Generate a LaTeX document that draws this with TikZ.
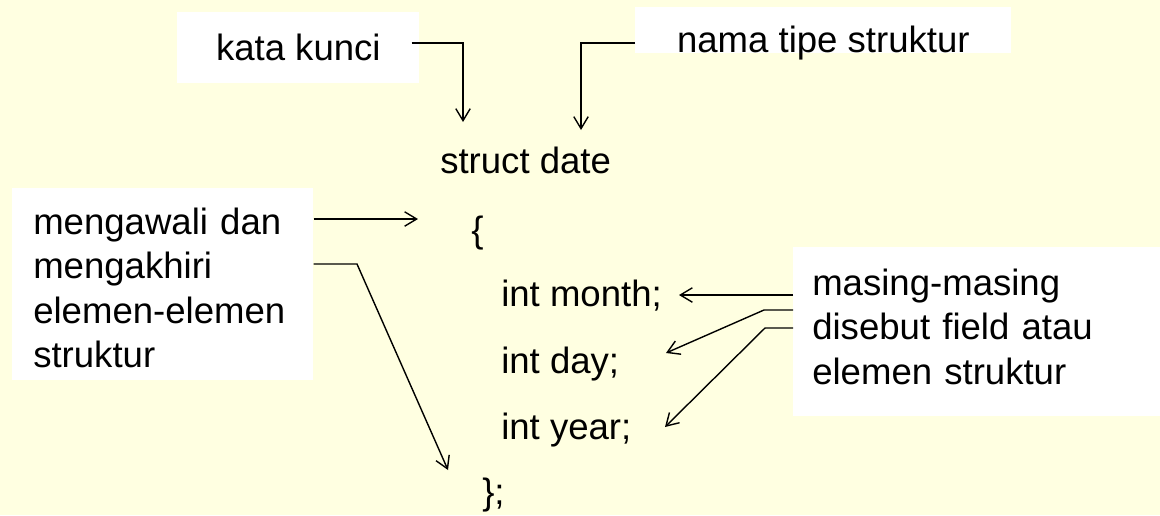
\documentclass[tikz,border=0pt]{standalone}
\usepackage{fontspec}
\setmainfont{Liberation Sans}
\usepackage{xcolor}
\usetikzlibrary{arrows.meta,positioning,calc}
\definecolor{slidebg}{RGB}{255,255,225}

\begin{document}
\begin{tikzpicture}[
      x=0.025cm, y=-0.025cm,
      txt/.style={font=\fontsize{26pt}{31.6pt}\selectfont, inner sep=0pt},
      note/.style={txt, fill=white, anchor=north west},
      code/.style={txt, anchor=base west},
      arrow/.style={-{Straight Barb[length=0.3cm,width=0.36cm]}, line width=1pt, draw=black}
    ]
    % Slide background
    \fill[slidebg] (0,0) rectangle (1160,515);
    \useasboundingbox (0,0) rectangle (1160,515);

    % Struct declaration
    \node[code] (structdate) at (440,173) {struct date};
    \node[code] (lbrace) at (471,242) {\{};
    \node[code] (month) at (501,306) {int month;};
    \node[code] (day) at (501,373) {int day;};
    \node[code] (year) at (501,439) {int year;};
    \node[code] (rbrace) at (482,504) {\};};

    % Notes
    \node[note, minimum width=6.05cm, text height=1.2cm, text depth=0.575cm] (kunci) at (177,12) {kata kunci};
    \node[note, minimum width=9.4cm, text height=1.125cm, text depth=0.025cm] (tipe) at (635,7) {nama tipe struktur};
    \node[note, inner xsep=0.525cm, text width=6.475cm, align=left, text height=1.15cm, text depth=3.65cm] (awal) at (12,188) {mengawali dan\\mengakhiri\\elemen-elemen\\struktur};
    \node[note, inner xsep=0.475cm, text width=8.225cm, align=left, text height=1.2cm, text depth=3.025cm] (field) at (793,247) {masing-masing\\disebut field atau\\elemen struktur};

    % Pointer ends
    \coordinate (kunciend) at (463,122);
    \coordinate (tipeend) at (581,130);
    \coordinate (openend) at (418,219);
    \coordinate (closebend) at (357,264);
    \coordinate (closeend) at (448,470);
    \coordinate (monthend) at (679,295);
    \coordinate (daybend) at (764,310);
    \coordinate (dayend) at (666,353);
    \coordinate (yearbend) at (765,328);
    \coordinate (yearend) at (665,427);

    \draw[arrow] ($(kunci.north east)+(-8,31)$) -| (kunciend);
    \draw[arrow] ($(tipe.north west)+(0,36)$) -| (tipeend);
    \draw[arrow] ($(awal.north east)+(0,31)$) -- (openend);
    \draw[arrow] ($(awal.north east)+(0,76)$) -- (closebend) -- (closeend);
    \draw[arrow] ($(field.north west)+(0,48)$) -- (monthend);
    \draw[arrow] ($(field.north west)+(0,63)$) -- (daybend) -- (dayend);
    \draw[arrow] ($(field.north west)+(0,81)$) -- (yearbend) -- (yearend);
  \end{tikzpicture}
\end{document}
